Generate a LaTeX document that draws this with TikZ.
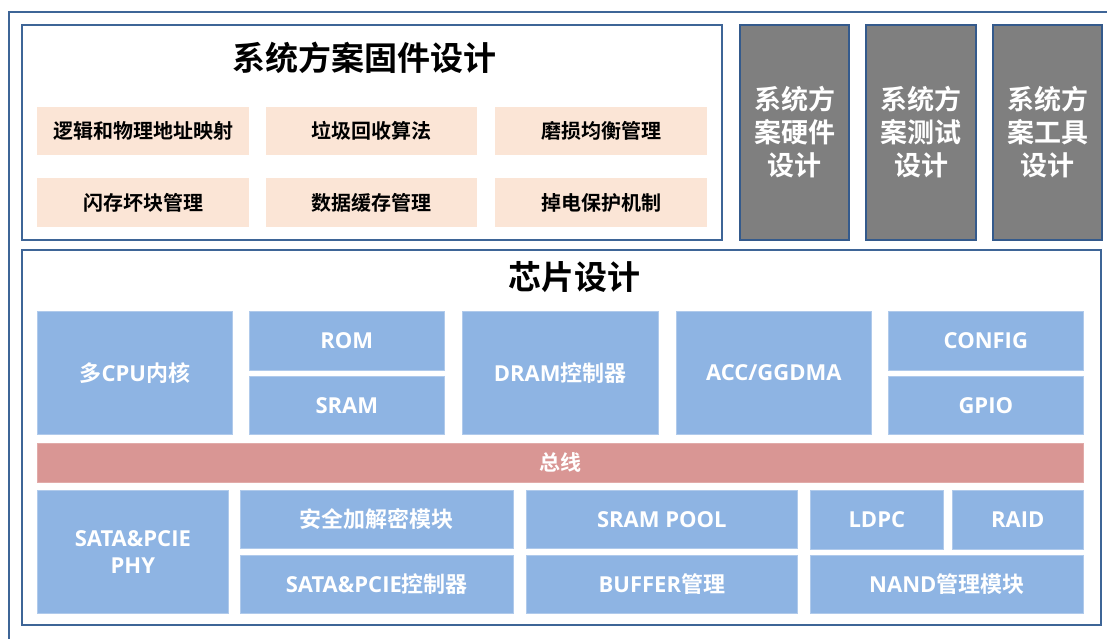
\documentclass[tikz,border=0pt]{standalone}
\usepackage{fontspec}
\setmainfont{Open Sans}
\newfontfamily\cjk{Noto Sans CJK SC Bold}
\newfontfamily\lat{Open Sans Bold}
\definecolor{frame}{HTML}{3E6597}
\definecolor{grayframe}{HTML}{345A8C}
\definecolor{grayfill}{HTML}{7F7F7F}
\definecolor{peach}{HTML}{FBE5D6}
\definecolor{blk}{HTML}{8EB4E3}
\definecolor{blkline}{HTML}{B0CAEB}
\definecolor{bus}{HTML}{D99694}
\newcommand\bxn[7]{\node[#1,anchor=north west,minimum width={#5-#3},minimum height={#6-#4}] (#2) at (#3,#4) {#7};}
\begin{document}
\begin{tikzpicture}[x=1pt,y=-1pt,
  outerbox/.style={draw=frame,line width=2pt,fill=white,inner sep=0pt},
  graybox/.style={draw=grayframe,line width=2pt,fill=grayfill,text=white,inner sep=0pt,align=center,font=\cjk\fontsize{27}{33}\selectfont},
  peachbox/.style={fill=peach,inner sep=0pt,text=black,font=\cjk\fontsize{20}{24}\selectfont},
  bluebox/.style={draw=blkline,line width=0.6pt,fill=blk,inner sep=0pt,text=white,align=center,font=\lat\fontsize{22}{27}\selectfont},
  busbox/.style={draw=bus!80!white,line width=0.6pt,fill=bus,inner sep=0pt,text=white,font=\cjk\fontsize{21}{25}\selectfont},
  titletext/.style={inner sep=0pt,text=black,font=\cjk\fontsize{33}{38}\selectfont}]
\useasboundingbox (0,0) rectangle (1107,638);
\fill[white] (0,0) rectangle (1107,638);
\begin{scope}
\clip (0,0) rectangle (1107,638);
\node[draw=frame,line width=1.8pt,anchor=north west,minimum width=1120,minimum height=650,inner sep=0pt] (outer) at (8,11) {};
\end{scope}
% firmware section
\bxn{outerbox}{fw}{21}{24}{721}{239}{}
\node[titletext] (fwtitle) at (364,58) {系统方案固件设计};
\bxn{peachbox}{p1}{37}{107}{249}{155}{逻辑和物理地址映射}
\bxn{peachbox}{p2}{266}{107}{477}{155}{垃圾回收算法}
\bxn{peachbox}{p3}{495}{107}{707}{155}{磨损均衡管理}
\bxn{peachbox}{p4}{37}{178}{249}{227}{闪存坏块管理}
\bxn{peachbox}{p5}{266}{178}{477}{227}{数据缓存管理}
\bxn{peachbox}{p6}{495}{178}{707}{227}{掉电保护机制}
% gray boxes
\bxn{graybox}{hw}{739}{24}{848}{239}{系统方\\案硬件\\设计}
\bxn{graybox}{test}{865}{24}{975}{239}{系统方\\案测试\\设计}
\bxn{graybox}{tool}{992}{24}{1101}{239}{系统方\\案工具\\设计}
% chip section
\bxn{outerbox}{chip}{21}{249}{1100}{624}{}
\node[titletext] (chiptitle) at (574,277) {芯片设计};
\bxn{bluebox}{cpu}{37}{311}{232}{434}{{\cjk 多}CPU{\cjk 内核}}
\bxn{bluebox}{rom}{249}{311}{444}{370}{ROM}
\bxn{bluebox}{sram}{249}{376}{444}{434}{SRAM}
\bxn{bluebox}{dram}{462}{311}{658}{434}{DRAM{\cjk 控制器}}
\bxn{bluebox}{acc}{676}{311}{871}{434}{ACC/GGDMA}
\bxn{bluebox}{config}{888}{311}{1083}{370}{CONFIG}
\bxn{bluebox}{gpio}{888}{376}{1083}{434}{GPIO}
\bxn{busbox}{busbar}{37}{443}{1083}{482}{总线}
\bxn{bluebox}{phy}{37}{490}{228}{613}{SATA\&PCIE\\PHY}
\bxn{bluebox}{sec}{240}{490}{513}{548}{{\cjk 安全加解密模块}}
\bxn{bluebox}{ctl}{240}{555}{513}{613}{SATA\&PCIE{\cjk 控制器}}
\bxn{bluebox}{pool}{526}{490}{797}{548}{SRAM POOL}
\bxn{bluebox}{buf}{526}{555}{797}{613}{BUFFER{\cjk 管理}}
\bxn{bluebox}{ldpc}{810}{490}{943}{549}{LDPC}
\bxn{bluebox}{raid}{952}{490}{1083}{549}{RAID}
\bxn{bluebox}{nand}{810}{555}{1083}{613}{NAND{\cjk 管理模块}}
\end{tikzpicture}
\end{document}
